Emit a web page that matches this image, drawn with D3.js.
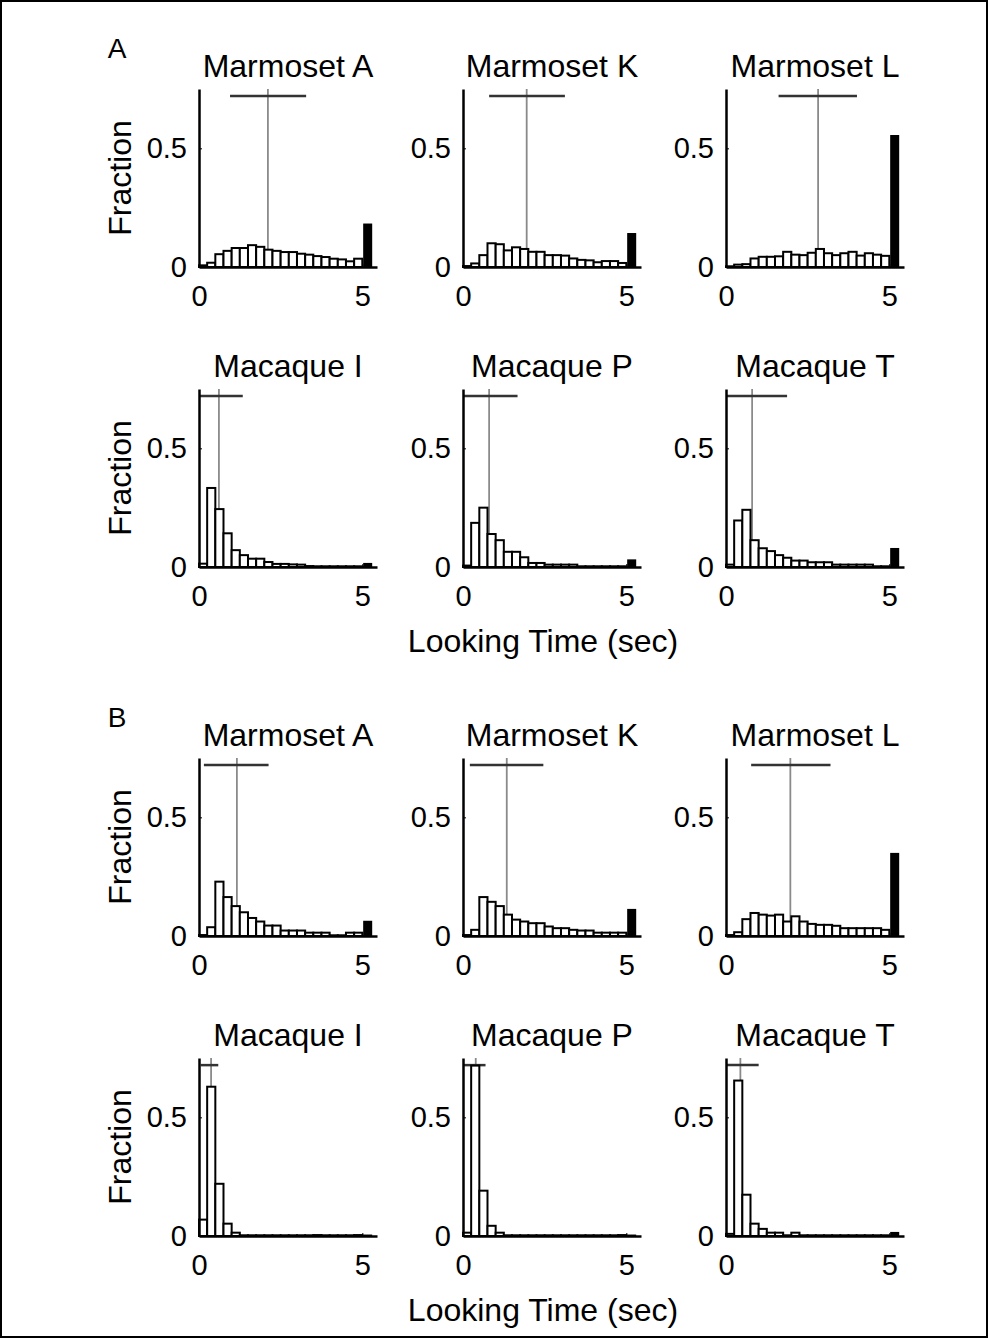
<!DOCTYPE html>
<html>
<head>
<meta charset="utf-8">
<script src="https://cdn.jsdelivr.net/npm/d3@7"></script>
<style>
	body { margin: 0; background: #fff; }
	text { font-family: "Liberation Sans", Arial, sans-serif; fill: #000; }
</style>
</head>
<body>
<svg id="chart" width="988" height="1338"></svg>
<script>
// subjects, one panel each (3 marmosets on top row, 3 macaques below)
const subjects = ["Marmoset A", "Marmoset K", "Marmoset L", "Macaque I", "Macaque P", "Macaque T"];
const timeTicks = [0, 5];
const fracTicks = [0, 0.5];
const binWidth = 0.25; // seconds per bin, bins run 0..5 s

// section A - fraction of trials per looking time bin
const histA_marmA = [0.007, 0.018, 0.054, 0.068, 0.08, 0.08, 0.092, 0.085, 0.073, 0.068, 0.063, 0.063, 0.056, 0.052, 0.046, 0.042, 0.035, 0.032, 0.024, 0.035];
const histA_marmK = [0.004, 0.015, 0.05, 0.1, 0.096, 0.07, 0.083, 0.076, 0.064, 0.064, 0.05, 0.05, 0.048, 0.036, 0.03, 0.028, 0.02, 0.025, 0.025, 0.017];
const histA_marmL = [0.003, 0.01, 0.012, 0.036, 0.043, 0.043, 0.045, 0.064, 0.052, 0.05, 0.06, 0.076, 0.058, 0.05, 0.058, 0.064, 0.048, 0.058, 0.052, 0.047];
const histA_macI = [0.014, 0.333, 0.244, 0.142, 0.071, 0.05, 0.035, 0.035, 0.021, 0.013, 0.013, 0.011, 0.01, 0.004, 0.003, 0.003, 0.003, 0.003, 0.003, 0.003];
const histA_macP = [0.006, 0.186, 0.25, 0.139, 0.113, 0.064, 0.064, 0.041, 0.017, 0.017, 0.01, 0.01, 0.01, 0.01, 0.003, 0.003, 0.003, 0.003, 0.003, 0.003];
const histA_macT = [0.01, 0.196, 0.241, 0.113, 0.079, 0.067, 0.05, 0.039, 0.027, 0.027, 0.02, 0.02, 0.02, 0.01, 0.01, 0.01, 0.01, 0.01, 0.003, 0.003];
const timeoutA = [0.18, 0.14, 0.553, 0.014, 0.029, 0.077];
const meanA = [2.11, 1.95, 2.82, 0.61, 0.8, 0.8];
const spreadA = [[0.95, 3.28], [0.8, 3.12], [1.61, 4.01], [0, 1.34], [0, 1.67], [0, 1.87]];

// section B
const histB_marmA = [0.004, 0.037, 0.229, 0.164, 0.126, 0.1, 0.076, 0.061, 0.044, 0.044, 0.023, 0.023, 0.023, 0.014, 0.014, 0.014, 0.003, 0.003, 0.014, 0.014];
const histB_marmK = [0.004, 0.026, 0.164, 0.144, 0.126, 0.09, 0.069, 0.061, 0.054, 0.054, 0.04, 0.033, 0.033, 0.026, 0.023, 0.023, 0.014, 0.014, 0.014, 0.014];
const histB_marmL = [0.004, 0.016, 0.071, 0.097, 0.09, 0.086, 0.09, 0.061, 0.083, 0.061, 0.051, 0.047, 0.047, 0.043, 0.033, 0.033, 0.033, 0.033, 0.033, 0.026];
const histB_macI = [0.069, 0.629, 0.22, 0.052, 0.014, 0.003, 0.003, 0.003, 0.003, 0.003, 0.003, 0.003, 0.003, 0.003, 0.004, 0.003, 0.003, 0.003, 0.003, 0.004];
const histB_macP = [0.014, 0.718, 0.191, 0.043, 0.014, 0.003, 0.003, 0.003, 0.003, 0.003, 0.003, 0.003, 0.003, 0.003, 0.003, 0.003, 0.003, 0.003, 0.003, 0.004];
const histB_macT = [0.009, 0.655, 0.174, 0.052, 0.03, 0.014, 0.014, 0.003, 0.014, 0.003, 0.003, 0.003, 0.003, 0.003, 0.003, 0.003, 0.003, 0.003, 0.003, 0.003];
const timeoutB = [0.061, 0.111, 0.347, 0.003, 0.003, 0.014];
const meanB = [1.16, 1.34, 1.97, 0.37, 0.39, 0.44];
const spreadB = [[0.15, 2.13], [0.21, 2.46], [0.77, 3.2], [0.05, 0.59], [0, 0.69], [0, 1.0]];

const sections = [
	{ label: "A", top: 89, hists: [histA_marmA, histA_marmK, histA_marmL, histA_macI, histA_macP, histA_macT], timeout: timeoutA, mean: meanA, spread: spreadA },
	{ label: "B", top: 758, hists: [histB_marmA, histB_marmK, histB_marmL, histB_macI, histB_macP, histB_macT], timeout: timeoutB, mean: meanB, spread: spreadB }
];

const svg = d3.select("#chart");
svg.append("rect").attr("x", 1).attr("y", 1).attr("width", 986).attr("height", 1336)
	.attr("fill", "none").attr("stroke", "#000").attr("stroke-width", 2);

const colX = [199, 463, 726];
const rowGap = 300;
const pw = 178, ph = 178;

const x = d3.scaleLinear().domain([0, 5.45]).range([0, pw]);
const y = d3.scaleLinear().domain([0, 0.75]).range([ph, 0]).clamp(true);

sections.forEach(function (sec) {
	svg.append("text").attr("x", 117).attr("y", sec.top - 31).attr("text-anchor", "middle")
		.style("font-size", "28px").text(sec.label);

	sec.hists.forEach(function (hist, k) {
		const row = Math.floor(k / 3), col = k % 3;
		const top = sec.top + row * rowGap;
		const g = svg.append("g").attr("transform", `translate(${colX[col]},${top})`);

		g.append("text").attr("x", pw / 2).attr("y", -12).attr("text-anchor", "middle")
			.style("font-size", "32px").text(subjects[k]);

		// mean line and spread bar
		g.append("line").attr("x1", x(sec.mean[k])).attr("x2", x(sec.mean[k]))
			.attr("y1", y(0)).attr("y2", y(0.75))
			.attr("stroke", "#8a8a8a").attr("stroke-width", 1.8);
		g.append("line").attr("x1", x(sec.spread[k][0])).attr("x2", x(sec.spread[k][1]))
			.attr("y1", y(0.72)).attr("y2", y(0.72))
			.attr("stroke", "#333").attr("stroke-width", 2.5);

		g.selectAll(".bar").data(hist).enter().append("rect")
			.attr("class", "bar")
			.attr("x", (d, i) => x(i * binWidth))
			.attr("width", x(binWidth) - x(0))
			.attr("y", d => y(d))
			.attr("height", d => y(0) - y(d))
			.attr("fill", "#fff").attr("stroke", "#000").attr("stroke-width", 2);

		// trials that ran to the 5 s limit
		g.append("rect")
			.attr("x", x(5.05)).attr("width", x(5.28) - x(5.05))
			.attr("y", y(sec.timeout[k])).attr("height", y(0) - y(sec.timeout[k]))
			.attr("fill", "#000").attr("stroke", "#000").attr("stroke-width", 1.5);

		const yAxis = g.append("g").call(d3.axisLeft(y).tickValues(fracTicks).tickFormat(d3.format("~g"))
			.tickSizeInner(-3).tickSizeOuter(0).tickPadding(12));
		const xAxis = g.append("g").attr("transform", `translate(0,${ph})`)
			.call(d3.axisBottom(x).tickValues(timeTicks).tickFormat(d3.format("d"))
				.tickSizeInner(-3).tickSizeOuter(0).tickPadding(18));
		[yAxis, xAxis].forEach(function (a) {
			a.select(".domain").attr("stroke-width", 2.5);
			a.selectAll("text").style("font-size", "29px").attr("font-family", null);
		});

		if (col === 0) {
			g.append("text").attr("transform", `translate(-68,${ph / 2}) rotate(-90)`)
				.attr("text-anchor", "middle").style("font-size", "32px").text("Fraction");
		}
	});

	svg.append("text").attr("x", 543).attr("y", sec.top + rowGap + ph + 85).attr("text-anchor", "middle")
		.style("font-size", "32px").text("Looking Time (sec)");
});
</script>
</body>
</html>
